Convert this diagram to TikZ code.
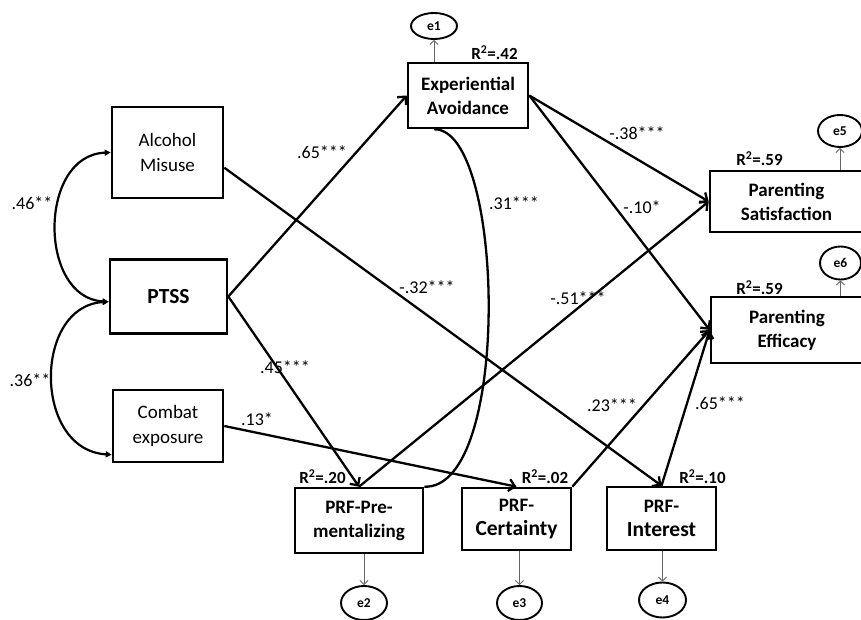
\documentclass[tikz,border=0pt]{standalone}
\usepackage{fontspec}
\setmainfont{Carlito}
\usetikzlibrary{arrows.meta,shapes.geometric}

\begin{document}
\begin{tikzpicture}[x=1pt,y=-1pt,
    caja/.style={draw, line width=2.6pt, inner sep=0pt, align=center, font=\bfseries\fontsize{19}{24}\selectfont},
    simple/.style={caja, font=\fontsize{19}{25}\selectfont},
    ruta/.style={line width=2.3pt, -{Straight Barb[length=6pt,width=12pt]}},
    cov/.style={line width=2.2pt, {Triangle[length=6pt,width=6pt]}-{Triangle[length=6pt,width=6pt]}},
    err/.style={ellipse, draw, line width=1.9pt, inner sep=0pt, font=\bfseries\fontsize{13.5}{14}\selectfont},
    errf/.style={draw=black!60, line width=0.9pt, -{Straight Barb[length=4pt,width=8pt]}},
    coef/.style={font=\fontsize{18}{20}\selectfont},
    rcua/.style={font=\bfseries\fontsize{17}{19}\selectfont}]
    \useasboundingbox (0,0) rectangle (861,620);

    % Dibuja las cajas de las variables
    \node[simple, minimum width=111, minimum height=91] (alc) at (167.5,152.5) {Alcohol\\Misuse};
    \node[caja, minimum width=117, minimum height=74, font=\bfseries\fontsize{21.5}{24}\selectfont] (ptss) at (168.5,296.5) {PTSS};
    \node[simple, minimum width=110, minimum height=72] (comb) at (168,426) {Combat\\exposure};
    \node[caja, minimum width=120, minimum height=65] (expav) at (468,95.5) {Experiential\\Avoidance};
    \node[caja, minimum width=153, minimum height=61] (sat) at (786.5,201.5) {Parenting\\Satisfaction};
    \node[caja, minimum width=152, minimum height=66] (eff) at (787,330) {Parenting\\Efficacy};
    \node[caja, minimum width=128, minimum height=65] (prem) at (359,520.5) {PRF-Pre-\\mentalizing};
    \node[caja, minimum width=109, minimum height=62] (cert) at (516.5,519) {PRF-\\{\fontsize{21.5}{24}\selectfont Certainty}};
    \node[caja, minimum width=109, minimum height=63] (inter) at (661.5,518.5) {PRF-\\{\fontsize{21.5}{24}\selectfont Interest}};

    % Dibuja los errores
    \node[err, minimum width=46, minimum height=26] (e1) at (434,26) {e1};
    \node[err, minimum width=44, minimum height=32] (e5) at (840,131) {e5};
    \node[err, minimum width=41, minimum height=33] (e6) at (840.5,263) {e6};
    \node[err, minimum width=46, minimum height=34] (e2) at (364,603) {e2};
    \node[err, minimum width=45, minimum height=34] (e3) at (519.5,603) {e3};
    \node[err, minimum width=47, minimum height=35] (e4) at (662.5,600) {e4};
    \draw[errf] (expav.north -| e1.south) -- (e1.south);
    \draw[errf] (sat.north -| e5.south) -- (e5.south);
    \draw[errf] (eff.north -| e6.south) -- (e6.south);
    \draw[errf] (prem.south -| e2.north) -- (e2.north);
    \draw[errf] (cert.south -| e3.north) -- (e3.north);
    \draw[errf] (inter.south -| e4.north) -- (e4.north);

    % Dibuja las covarianzas
    \draw[cov] (alc.west) .. controls (38,155) and (38,298) .. (ptss.185);
    \draw[cov] (ptss.185) .. controls (33,306) and (33,450) .. (comb.207);
    \draw[line width=2.3pt] (expav.-135) .. controls (505,128) and (512,490) .. (prem.north east);

    % Dibuja las rutas
    \draw[ruta] (ptss.east) -- (expav.west);
    \draw[ruta] (ptss.east) -- (prem.north);
    \draw[ruta] (alc.-15) -- (inter.north);
    \draw[ruta] (comb.east) -- (cert.north);
    \draw[ruta] (expav.east) -- (sat.west);
    \draw[ruta] (expav.east) -- (eff.west);
    \draw[ruta] (prem.north) -- (sat.west);
    \draw[ruta] (cert.north east) -- (eff.west);
    \draw[ruta] (inter.north) -- (eff.west);

    % Coeficientes
    \node[coef] (c1) at (32,203) {.46**};
    \node[coef] (c2) at (30,380) {.36**};
    \node[coef] (c3) at (322,152) {.65***};
    \node[coef] (c4) at (285,367) {.45***};
    \node[coef] (c5) at (427,287) {-.32***};
    \node[coef] (c6) at (257,419) {.13*};
    \node[coef] (c7) at (514,203) {.31***};
    \node[coef] (c8) at (637,133) {-.38***};
    \node[coef] (c9) at (642,207) {-.10*};
    \node[coef] (c10) at (578,298) {-.51***};
    \node[coef] (c11) at (612,405) {.23***};
    \node[coef] (c12) at (720,403) {.65***};

    % R cuadrado
    \node[rcua] (r1) at (494.5,53) {R\textsuperscript{2}=.42};
    \node[rcua] (r2) at (759.5,159) {R\textsuperscript{2}=.59};
    \node[rcua] (r3) at (759.5,288) {R\textsuperscript{2}=.59};
    \node[rcua] (r4) at (322.5,477) {R\textsuperscript{2}=.20};
    \node[rcua] (r5) at (545,477) {R\textsuperscript{2}=.02};
    \node[rcua] (r6) at (702.5,477) {R\textsuperscript{2}=.10};
\end{tikzpicture}
\end{document}
